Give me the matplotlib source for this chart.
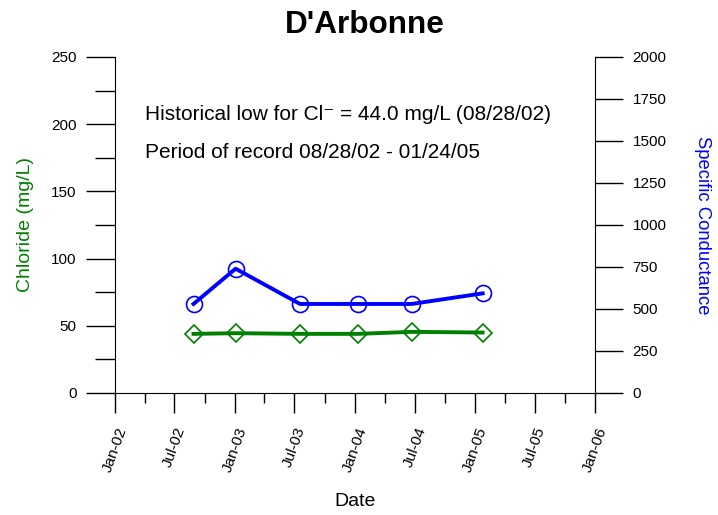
import matplotlib
matplotlib.use("Agg")
import matplotlib.pyplot as plt
import matplotlib.dates as mdates
from datetime import datetime

plt.rcParams['font.family'] = ['Liberation Sans', 'DejaVu Sans']

# Data
dates = ["2002-08-28", "2003-01-03", "2003-07-18", "2004-01-10", "2004-06-22", "2005-01-24"]
chloride = [44.0, 44.5, 44.0, 44.0, 45.5, 45.0]
conductance = [530, 740, 530, 530, 530, 593]

title = "D'Arbonne"
note1 = "Historical low for Cl\u207b = 44.0 mg/L (08/28/02)"
note2 = "Period of record 08/28/02 - 01/24/05"

x = [datetime.strptime(d, "%Y-%m-%d") for d in dates]

fig = plt.figure(figsize=(7.18, 5.15), dpi=100)
ax1 = fig.add_axes([115/718, 1-393/515, 480/718, 336/515])
ax2 = ax1.twinx()

green = '#008000'
blue = '#0000FF'

ax1.plot(x, chloride, color=green, lw=2.8, marker='D', ms=9, mfc='none',
         mec=green, mew=1.2, zorder=3)
ax2.plot(x, conductance, color=blue, lw=2.8, marker='o', ms=11.5, mfc='none',
         mec=blue, mew=1.2, zorder=3)

ax1.set_xlim(datetime(2002, 1, 1), datetime(2006, 1, 1))
ax1.set_ylim(0, 250)
ax2.set_ylim(0, 2000)

ax1.set_yticks(range(0, 251, 50))
ax1.set_yticks(range(25, 250, 50), minor=True)
ax2.set_yticks(range(0, 2001, 250))

ax1.xaxis.set_major_locator(mdates.MonthLocator(bymonth=[1, 7]))
ax1.xaxis.set_minor_locator(mdates.MonthLocator(bymonth=[4, 10]))
ax1.xaxis.set_major_formatter(mdates.DateFormatter('%b-%y'))

for sp in ['top', 'right']:
    ax1.spines[sp].set_visible(False)
for sp in ['top', 'left', 'bottom']:
    ax2.spines[sp].set_visible(False)

ax1.tick_params(axis='y', which='major', length=21, width=1, labelsize=11, pad=6.5)
ax1.tick_params(axis='y', which='minor', length=14.4, width=1)
ax2.tick_params(axis='y', which='major', length=20, width=1, labelsize=11, pad=7)
ax1.tick_params(axis='x', which='major', length=14.4, width=1, labelsize=11, pad=9)
ax1.tick_params(axis='x', which='minor', length=7.2, width=1)
for lab in ax1.get_xticklabels():
    lab.set_rotation(70)

ax1.set_ylabel("Chloride (mg/L)", color=green, fontsize=14, va='center')
ax1.yaxis.set_label_coords((25-115)/480, 0.5)
ax2.set_ylabel("Specific Conductance", color=blue, fontsize=13.3, rotation=-90, va='center')
ax2.yaxis.set_label_coords(1 + (702-595)/480, 0.5)
ax1.set_xlabel("Date", fontsize=14, va='center')
ax1.xaxis.set_label_coords(0.5, -(501-393)/336)

fig.text(365/718, 1-25/515, title, ha='center', va='center', fontsize=22.7, fontweight='bold')
ax1.text(30/480, 1-(115-57)/336, note1, ha='left', va='center', fontsize=15, transform=ax1.transAxes)
ax1.text(30/480, 1-(152-57)/336, note2, ha='left', va='center', fontsize=15, transform=ax1.transAxes)

fig.savefig("out.png", dpi=100)
